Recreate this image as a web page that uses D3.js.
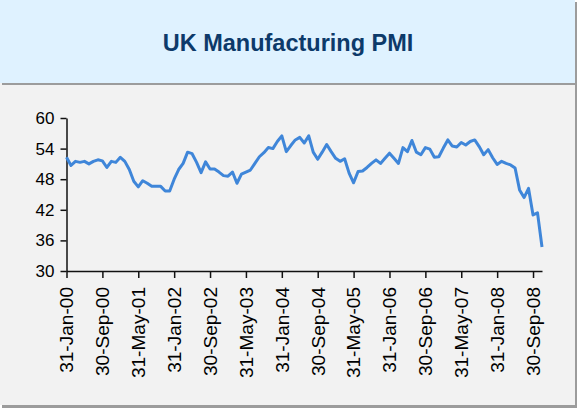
<!DOCTYPE html>
<html>
<head>
<meta charset="utf-8">
<script src="https://cdn.jsdelivr.net/npm/d3@7"></script>
<style>
  html, body { margin: 0; padding: 0; background: #fff; }
  svg { display: block; font-family: "Liberation Sans", Arial, sans-serif; }
</style>
</head>
<body>
<script>
// monthly PMI, Jan 2000 .. Nov 2008
var pmi2000 = [52.3, 50.7, 51.5, 51.3, 51.5, 51.0, 51.5, 51.8, 51.6, 50.3, 51.5, 51.3];
var pmi2001 = [52.3, 51.5, 49.9, 47.6, 46.5, 47.7, 47.2, 46.6, 46.6, 46.6, 45.7, 45.7];
var pmi2002 = [48.0, 49.9, 51.1, 53.3, 53.0, 51.3, 49.3, 51.4, 50.0, 50.0, 49.4, 48.7];
var pmi2003 = [48.6, 49.4, 47.2, 49.0, 49.4, 49.8, 51.1, 52.4, 53.2, 54.2, 54.0, 55.4];
var pmi2004 = [56.5, 53.4, 54.6, 55.7, 56.2, 55.1, 56.5, 53.3, 51.9, 53.3, 54.8, 53.4];
var pmi2005 = [52.1, 51.5, 52.0, 49.2, 47.3, 49.5, 49.6, 50.3, 51.1, 51.8, 51.1, 52.1];
var pmi2006 = [53.1, 52.1, 51.1, 54.2, 53.4, 55.6, 53.3, 52.8, 54.2, 53.9, 52.3, 52.4];
var pmi2007 = [54.1, 55.7, 54.5, 54.3, 55.2, 54.7, 55.4, 55.7, 54.4, 52.8, 53.8, 52.2];
var pmi2008 = [50.9, 51.5, 51.1, 50.8, 50.2, 45.9, 44.4, 46.2, 41.0, 41.4, 34.7];

var yTicks = [30, 36, 42, 48, 54, 60];
var xTickLabels = ["31-Jan-00", "30-Sep-00", "31-May-01", "31-Jan-02", "30-Sep-02", "31-May-03",
  "31-Jan-04", "30-Sep-04", "31-May-05", "31-Jan-06", "30-Sep-06", "31-May-07", "31-Jan-08", "30-Sep-08"];
var title = "UK Manufacturing PMI";

var values = [].concat(pmi2000, pmi2001, pmi2002, pmi2003, pmi2004, pmi2005, pmi2006, pmi2007, pmi2008);

// month-end category labels, same as the spreadsheet dates
var fmt = d3.timeFormat("%d-%b-%y");
var months = values.map(function(v, i) {
    return fmt(d3.timeDay.offset(d3.timeMonth.offset(new Date(2000, 0, 1), i + 1), -1));
});
var data = values.map(function(v, i) { return {m: months[i], v: v}; });

var W = 577, H = 408;
var svg = d3.select("body").append("svg")
    .attr("width", W)
    .attr("height", H);

// frame + shadows
svg.append("rect").attr("x", 0).attr("y", 0).attr("width", W).attr("height", H).attr("fill", "#fff");
svg.append("rect").attr("x", 2).attr("y", 2).attr("width", W - 2).attr("height", H - 2).attr("fill", "#9c9c9c");
svg.append("rect").attr("x", 0).attr("y", 0).attr("width", W - 2).attr("height", H - 3).attr("fill", "#f2f2f2");

// header band
svg.append("rect").attr("x", 2).attr("y", 2).attr("width", W - 2).attr("height", 83).attr("fill", "#9c9c9c");
svg.append("rect").attr("x", 0).attr("y", 0).attr("width", W - 2).attr("height", 83).attr("fill", "#dff2ff");

svg.append("text")
    .attr("x", 288)
    .attr("y", 51)
    .attr("text-anchor", "middle")
    .style("font-size", "23.5px")
    .style("font-weight", "bold")
    .style("fill", "#0d3a6a")
    .text(title);

var x = d3.scalePoint()
    .domain(months)
    .range([66.5, 542]);

var y = d3.scaleLinear()
    .domain([30, 60])
    .range([271, 118]);

var yAxis = svg.append("g")
    .attr("transform", "translate(66.5,0)")
    .call(d3.axisLeft(y).tickValues(yTicks).tickSize(6).tickSizeOuter(0).tickPadding(6));

var xAxis = svg.append("g")
    .attr("transform", "translate(0,271)")
    .call(d3.axisBottom(x).tickValues(xTickLabels).tickSize(7).tickSizeOuter(0));

[yAxis, xAxis].forEach(function(a) {
    a.selectAll("path, line").attr("stroke", "#111").attr("stroke-width", 1.5);
    a.selectAll("text").style("font-size", "17px").style("fill", "#000")
        .style("font-family", "'Liberation Sans', Arial, sans-serif");
});

// date labels run a bit longer than the font gives
xAxis.selectAll("text")
    .style("font-size", "18px")
    .attr("transform", "rotate(-90) scale(1.06,1)")
    .attr("x", -16 / 1.06)
    .attr("y", 0)
    .attr("dy", "0.35em")
    .style("text-anchor", "end");

var line = d3.line()
    .x(function(d) { return x(d.m); })
    .y(function(d) { return y(d.v); });

svg.append("path")
    .datum(data)
    .attr("d", line)
    .attr("fill", "none")
    .attr("stroke", "#3f86d9")
    .attr("stroke-width", 3)
    .attr("stroke-linejoin", "round");
</script>
</body>
</html>
